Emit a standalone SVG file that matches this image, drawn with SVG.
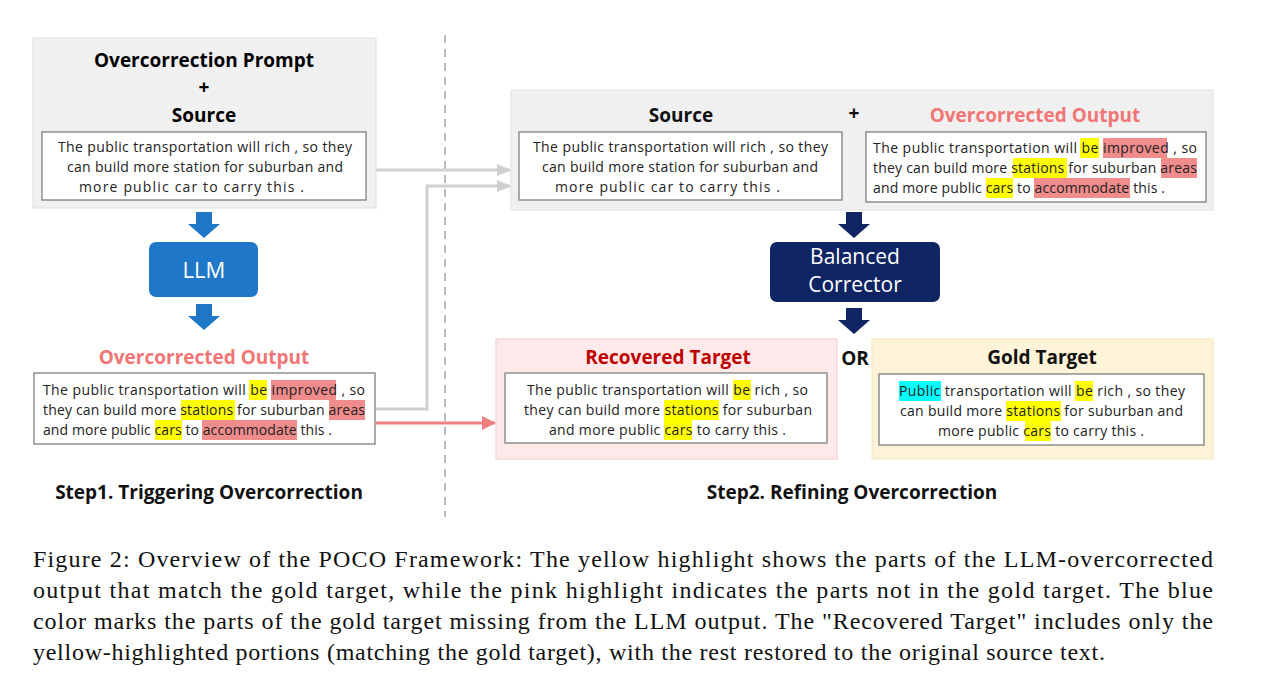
<svg xmlns="http://www.w3.org/2000/svg" width="1270" height="679" viewBox="0 0 1270 679">
<style>
.t{font-family:"Open Sans","Liberation Sans",sans-serif;font-size:14px;fill:#222}
.h{font-family:"Open Sans","Liberation Sans",sans-serif;font-size:19px;font-weight:bold;text-anchor:middle}
.cap{font-family:"Liberation Serif",serif;font-size:24px;fill:#111}
.y{fill:#ffff00}.p{fill:#f08c8c}.c{fill:#00ffff}
.ib{fill:#fff;stroke:#7f7f7f;stroke-width:1.3}
</style>
<defs>
<marker id="ag" markerWidth="14" markerHeight="12" refX="13" refY="6" orient="auto" markerUnits="userSpaceOnUse" viewBox="0 0 14 12"><path d="M0,0L14,6L0,12z" fill="#d0d0d0"/></marker>
<marker id="ap" markerWidth="14" markerHeight="14" refX="13" refY="7" orient="auto" markerUnits="userSpaceOnUse" viewBox="0 0 14 14"><path d="M0,0L14,7L0,14z" fill="#f08080"/></marker>
</defs>
<rect width="1270" height="679" fill="#fff"/>
<line x1="445" y1="35" x2="445" y2="517" stroke="#bbb" stroke-width="2" stroke-dasharray="8,6"/>
<g id="connectors">
<path d="M376,170H510" stroke="#d0d0d0" stroke-width="3" fill="none" marker-end="url(#ag)"/>
<path d="M376,409H427V186H510" stroke="#d0d0d0" stroke-width="3" fill="none" marker-end="url(#ag)"/>
<path d="M376,423H495" stroke="#f08080" stroke-width="3" fill="none" marker-end="url(#ap)"/>
<path d="M196,212h16v12h8l-16,14l-16,-14h8z" fill="#1f77c8"/>
<path d="M196,304h16v12h8l-16,14l-16,-14h8z" fill="#1f77c8"/>
<path d="M846,212h16v12h8l-16,14l-16,-14h8z" fill="#0f2563"/>
<path d="M846,308h16v12h8l-16,14l-16,-14h8z" fill="#0f2563"/>
</g>
<g id="prompt">
<rect x="33" y="38" width="343" height="170" fill="#f0f0f0" stroke="#e0e0e0"/>
<text class="h" x="204" y="67">Overcorrection Prompt</text>
<text class="h" x="204" y="94">+</text>
<text class="h" x="204" y="122">Source</text>
<rect class="ib" x="42" y="132" width="324" height="68"/>
<text class="t" x="58" y="152" textLength="294">The public transportation will rich , so they</text>
<text class="t" x="67" y="172" textLength="276">can build more station for suburban and</text>
<text class="t" x="79" y="192" textLength="225">more public car to carry this .</text>
</g>
<g id="llm">
<rect x="149" y="242" width="109" height="55" rx="7" fill="#1f77c8"/>
<text x="204" y="278" text-anchor="middle" font-family="Open Sans,Liberation Sans,sans-serif" font-size="22" fill="#fff">LLM</text>
</g>
<g id="overcorrected-left">
<text class="h" x="204" y="364" fill="#f07575">Overcorrected Output</text>
<rect class="ib" x="34" y="373" width="341" height="71"/>
<rect class="y" x="249" y="380" width="18" height="20"/><rect class="p" x="271" y="380" width="65" height="20"/>
<rect class="y" x="181" y="400" width="54" height="20"/><rect class="p" x="329" y="400" width="36" height="20"/>
<rect class="y" x="155" y="420" width="27" height="20"/><rect class="p" x="202" y="420" width="95" height="20"/>
<text class="t" x="43" y="395" textLength="322">The public transportation will be improved , so</text>
<text class="t" x="43" y="415" textLength="322">they can build more stations for suburban areas</text>
<text class="t" x="43" y="435" textLength="289">and more public cars to accommodate this .</text>
</g>
<g id="source-right">
<rect x="511" y="90" width="702" height="120" fill="#f0f0f0" stroke="#e0e0e0"/>
<text class="h" x="681" y="122" fill="#111">Source</text>
<text class="h" x="854" y="120" fill="#111">+</text>
<text class="h" x="1035" y="122" fill="#f07575">Overcorrected Output</text>
<rect class="ib" x="519" y="132" width="323" height="68"/>
<text class="t" x="533" y="152" textLength="295">The public transportation will rich , so they</text>
<text class="t" x="542" y="172" textLength="276">can build more station for suburban and</text>
<text class="t" x="555" y="192" textLength="225">more public car to carry this .</text>
<rect class="ib" x="866" y="132" width="340" height="70"/>
<rect class="y" x="1080" y="138" width="19" height="20"/><rect class="p" x="1103" y="138" width="64" height="20"/>
<rect class="y" x="1013" y="158" width="54" height="20"/><rect class="p" x="1161" y="158" width="36" height="20"/>
<rect class="y" x="986" y="178" width="27" height="20"/><rect class="p" x="1034" y="178" width="96" height="20"/>
<text class="t" x="873" y="153" textLength="324">The public transportation will be improved , so</text>
<text class="t" x="873" y="173" textLength="324">they can build more stations for suburban areas</text>
<text class="t" x="873" y="193" textLength="292">and more public cars to accommodate this .</text>
</g>
<g id="balanced-corrector">
<rect x="770" y="242" width="170" height="60" rx="7" fill="#0f2563"/>
<text x="855" y="264" text-anchor="middle" font-family="Open Sans,Liberation Sans,sans-serif" font-size="21" fill="#fff">Balanced</text>
<text x="855" y="292" text-anchor="middle" font-family="Open Sans,Liberation Sans,sans-serif" font-size="21" fill="#fff">Corrector</text>
</g>
<text class="h" x="855" y="365" fill="#111">OR</text>
<g id="recovered-target">
<rect x="496" y="339" width="341" height="120" fill="#fde9e9" stroke="#f4c8c8"/>
<text class="h" x="668" y="364" fill="#c00000">Recovered Target</text>
<rect class="ib" x="505" y="373" width="322" height="70"/>
<rect class="y" x="733" y="380" width="18" height="20"/>
<rect class="y" x="664" y="400" width="55" height="20"/>
<rect class="y" x="664" y="420" width="28" height="20"/>
<text class="t" x="527" y="395" textLength="281">The public transportation will be rich , so</text>
<text class="t" x="524" y="415" textLength="288">they can build more stations for suburban</text>
<text class="t" x="549" y="435" textLength="237">and more public cars to carry this .</text>
</g>
<g id="gold-target">
<rect x="872" y="339" width="341" height="120" fill="#fdf3d8" stroke="#f5e6b8"/>
<text class="h" x="1042" y="364" fill="#111">Gold Target</text>
<rect class="ib" x="879" y="374" width="325" height="71"/>
<rect class="c" x="899" y="381" width="42" height="20"/><rect class="y" x="1075" y="381" width="18" height="20"/>
<rect class="y" x="1006" y="401" width="55" height="20"/>
<rect class="y" x="1025" y="421" width="26" height="20"/>
<text class="t" x="899" y="396" textLength="286">Public transportation will be rich , so they</text>
<text class="t" x="900" y="416" textLength="283">can build more stations for suburban and</text>
<text class="t" x="938" y="436" textLength="206">more public cars to carry this .</text>
</g>
<text class="h" x="209" y="499" fill="#111">Step1. Triggering Overcorrection</text>
<text class="h" x="852" y="499" fill="#111">Step2. Refining Overcorrection</text>
<g id="caption">
<text class="cap" x="33" y="567" textLength="1180">Figure 2: Overview of the POCO Framework: The yellow highlight shows the parts of the LLM-overcorrected</text>
<text class="cap" x="33" y="598" textLength="1180">output that match the gold target, while the pink highlight indicates the parts not in the gold target.  The blue</text>
<text class="cap" x="33" y="629" textLength="1180">color marks the parts of the gold target missing from the LLM output. The "Recovered Target" includes only the</text>
<text class="cap" x="33" y="660" textLength="1072">yellow-highlighted portions (matching the gold target), with the rest restored to the original source text.</text>
</g>
</svg>
